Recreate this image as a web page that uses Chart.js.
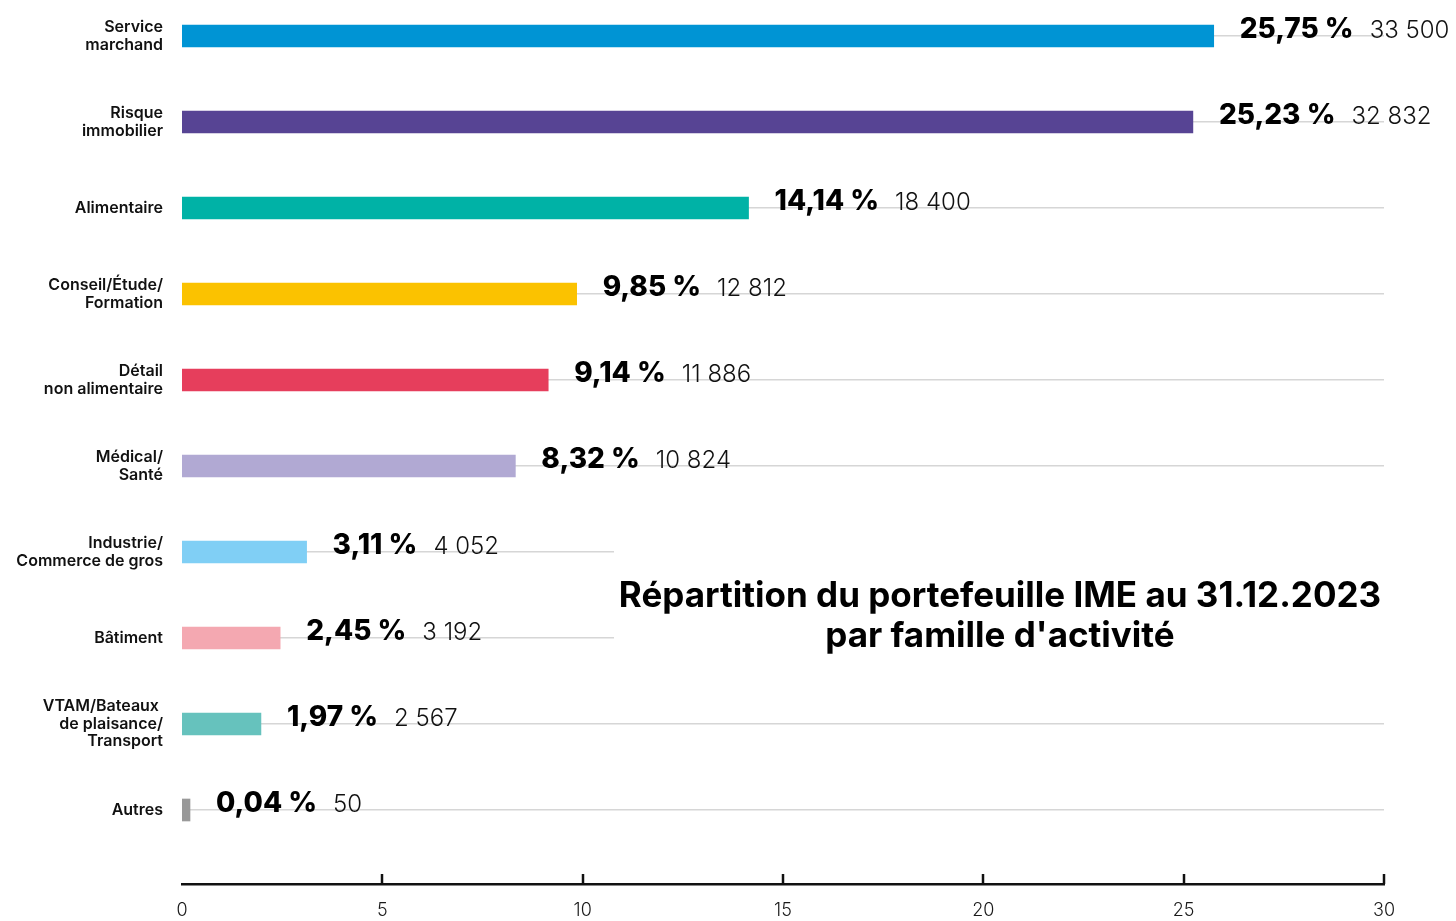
<!DOCTYPE html>
<html><head><meta charset="utf-8">
<script src="https://cdn.jsdelivr.net/npm/chart.js@4"></script>
<style>html,body{margin:0;padding:0;background:#fff}#wrap{width:1456px;height:921px;position:relative}</style>
</head><body><div id="wrap"><canvas id="c"></canvas></div>
<script>
const categories = [["Service","marchand"],["Risque","immobilier"],"Alimentaire",["Conseil/Étude/","Formation"],["Détail","non alimentaire"],["Médical/","Santé"],["Industrie/","Commerce de gros"],"Bâtiment",["VTAM/Bateaux ","de plaisance/","Transport"],"Autres"];
const percentages = [25.75,25.23,14.14,9.85,9.14,8.32,3.11,2.45,1.97,0.04];
const counts = [33500,32832,18400,12812,11886,10824,4052,3192,2567,50];
const barColors = ["#0094d4","#574494","#00b2a6","#fbc200","#e63e5c","#b1a9d3","#80cff5","#f4a8b1","#66c2bd","#999999"];
const xTicks = [0,5,10,15,20,25,30];
const titleLines = ["Répartition du portefeuille IME au 31.12.2023","par famille d'activité"];

const fmtPct = v => v.toFixed(2).replace('.', ',') + ' %';
const fmtCount = n => String(n).replace(/\B(?=(\d{3})+(?!\d))/g, ' ');

const overlay = {
  id: 'overlay',
  afterDraw(chart) {
    const ctx = chart.ctx;
    const xs = chart.scales.x;
    const area = chart.chartArea;
    ctx.save();
    // tick marks pointing up
    ctx.strokeStyle = '#111';
    ctx.lineWidth = 2.5;
    xTicks.forEach(v => {
      if (v === 0) return;
      const px = Math.round(xs.getPixelForValue(v));
      ctx.beginPath();
      ctx.moveTo(px, area.bottom - 10);
      ctx.lineTo(px, area.bottom);
      ctx.stroke();
    });
    // value labels
    const meta = chart.getDatasetMeta(0);
    ctx.textBaseline = 'alphabetic';
    ctx.textAlign = 'left';
    meta.data.forEach((el, i) => {
      const x0 = el.x + 26;
      const y0 = el.y + 2;
      ctx.fillStyle = '#000';
      ctx.font = '800 28px Inter';
      const p = fmtPct(percentages[i]);
      ctx.fillText(p, x0, y0);
      const w = ctx.measureText(p).width;
      ctx.fillStyle = '#111';
      ctx.font = '300 24px Inter';
      ctx.fillText(fmtCount(counts[i]), x0 + w + 16, y0);
    });
    // title with white box
    ctx.fillStyle = '#fff';
    ctx.fillRect(614, 540, area.right - 614 + 2, 125);
    ctx.fillStyle = '#000';
    ctx.font = '700 35px Inter';
    ctx.textAlign = 'center';
    ctx.fillText(titleLines[0], 1000, 607);
    ctx.fillText(titleLines[1], 1000, 647);
    ctx.restore();
  }
};

new Chart(document.getElementById('c'), {
  type: 'bar',
  data: {
    datasets: [{
      data: percentages.map((v, i) => ({x: v, y: i})),
      backgroundColor: barColors,
      borderWidth: 0,
      barThickness: 22,
      minBarLength: 8
    }]
  },
  options: {
    indexAxis: 'y',
    responsive: true,
    maintainAspectRatio: false,
    animation: false,
    layout: {padding: {top: 20, right: 72, left: 0, bottom: 0}},
    plugins: {legend: {display: false}, tooltip: {enabled: false}},
    scales: {
      x: {
        type: 'linear', min: 0, max: 30, position: 'bottom',
        afterBuildTicks: s => { s.ticks = xTicks.map(v => ({value: v})); },
        afterFit: s => { s.height = 37; },
        ticks: {font: {family: 'Inter', size: 18, weight: 300}, color: '#1a1a1a', padding: 16, maxRotation: 0, autoSkip: false},
        grid: {display: false, drawTicks: false},
        border: {display: true, color: '#111', width: 2.5}
      },
      y: {
        type: 'linear', reverse: true, min: -0.186, max: 9.8605, offset: false,
        afterBuildTicks: s => { s.ticks = categories.map((_, i) => ({value: i})); },
        afterFit: s => { s.width = 182; s.paddingTop = 0; s.paddingBottom = 0; },
        ticks: {callback: v => categories[v], font: {family: 'Inter', size: 16, weight: 600, lineHeight: 1.1}, color: '#111', padding: 19, autoSkip: false},
        grid: {color: '#d6d6d6', lineWidth: 1.5, drawTicks: false, offset: false},
        border: {display: false}
      }
    }
  },
  plugins: [overlay]
});
</script>
</body></html>
